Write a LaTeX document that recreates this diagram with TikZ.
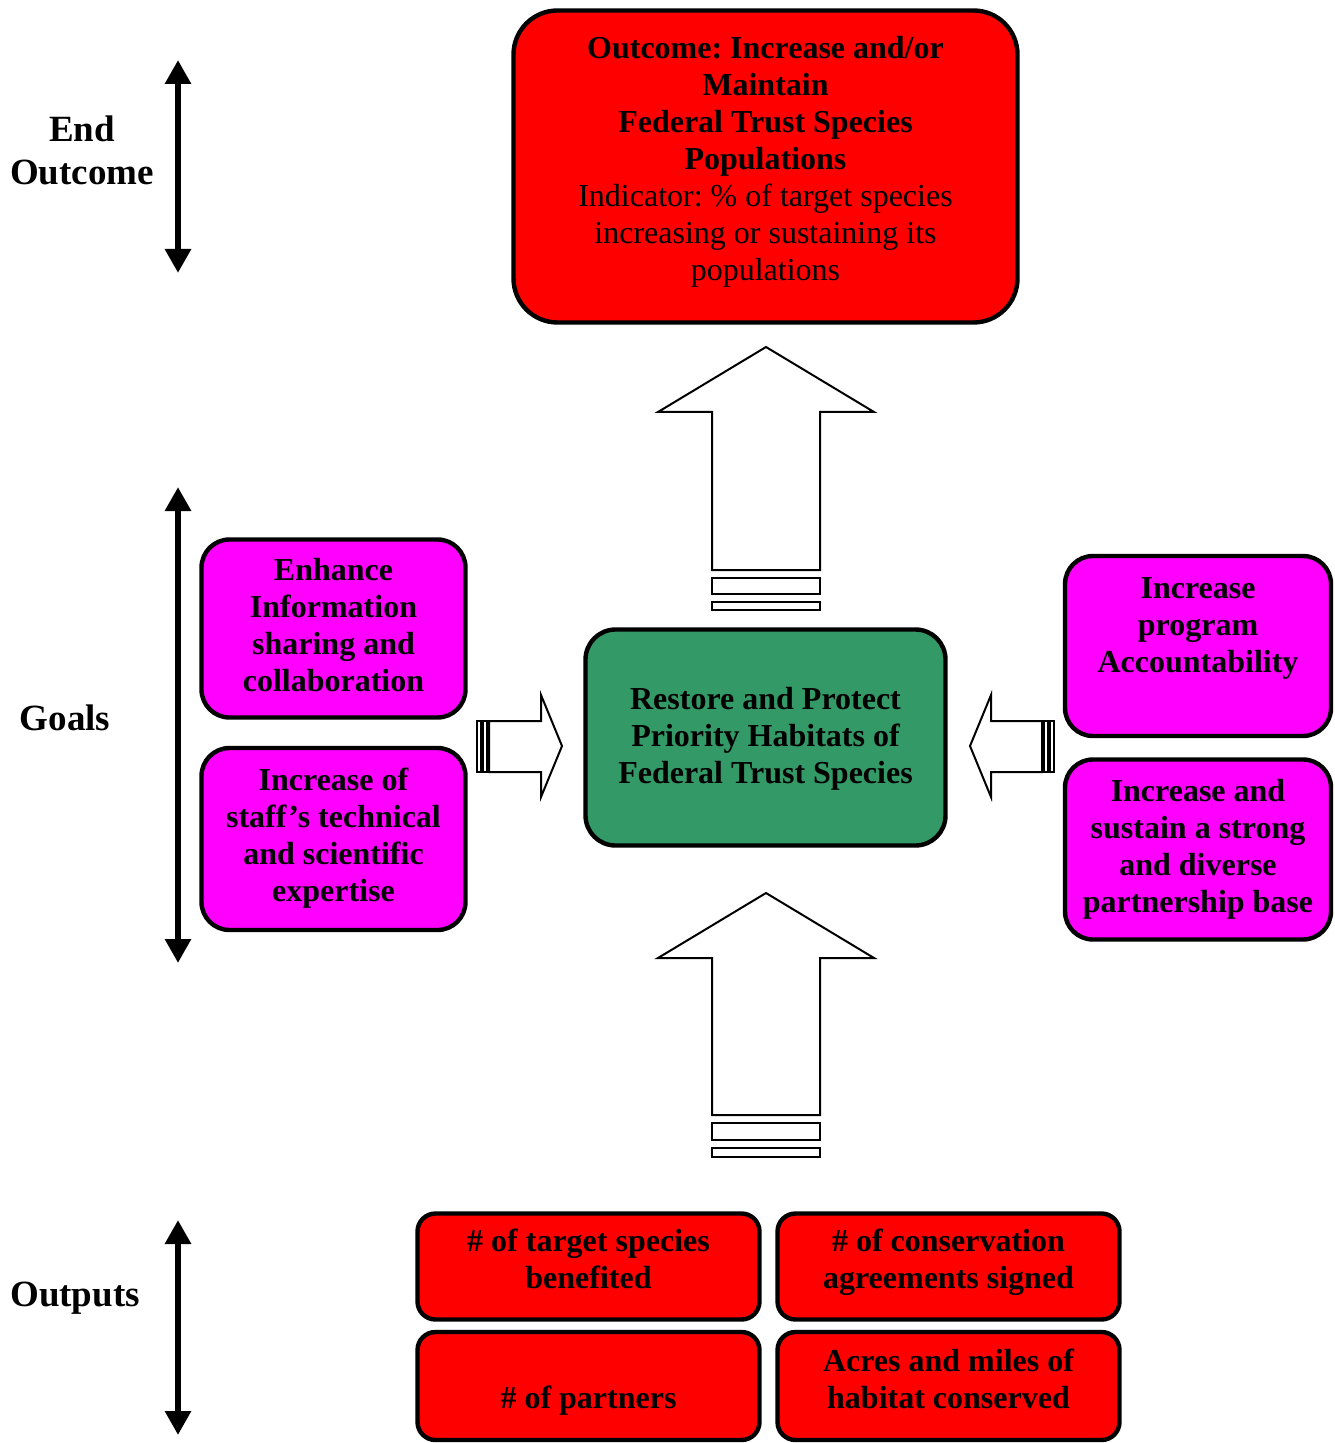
\documentclass[tikz,border=0pt]{standalone}
\usepackage{fontspec}
\setmainfont{Liberation Serif}
\usetikzlibrary{arrows.meta}

\definecolor{habgreen}{RGB}{51,153,102}
\definecolor{goalpink}{RGB}{255,0,255}
\definecolor{outred}{RGB}{255,0,0}

\tikzset{
  textbase/.style 2 args={execute at begin node={\rule{0pt}{#1}},
    execute at end node={\rule[-#2]{0pt}{#2}}},
  rbox/.style={draw,line width=2.2pt,rounded corners=#1,align=center,inner sep=0pt,
    font=\bfseries\fontsize{16}{18.5}\selectfont},
  lbl/.style={align=center,font=\bfseries\fontsize{18.5}{21.5}\selectfont},
  scalearrow/.style={line width=3pt,{Triangle[length=12pt,width=12.5pt]}-{Triangle[length=12pt,width=12.5pt]}},
  blockarrow/.style={draw,line width=1pt,fill=white,line join=miter}
}

\begin{document}
\frenchspacing
\begin{tikzpicture}[x=0.5pt,y=-0.5pt]
\useasboundingbox (0,0) rectangle (1334,1443);

% row labels and their ranges
\node[lbl] (eo) at (82,150) {End\\Outcome};
\node[lbl] (goals) at (65,718) {Goals};
\node[lbl] (outp) at (75,1298) {Outputs};

\draw[scalearrow] (178,60) -- (178,273);
\draw[scalearrow] (178,487) -- (178,963);
\draw[scalearrow] (178,1220) -- (178,1435);

% end outcome
\node[rbox=22pt,fill=outred,minimum width=252pt,minimum height=156pt,textbase={127pt}{12.5pt}] (outc) at (765.5,166.5)
  {Outcome: Increase and/or\\Maintain\\Federal Trust Species\\Populations\\
   \mdseries Indicator: \% of target species\\\mdseries increasing or sustaining its\\\mdseries populations};

% centre
\node[rbox=15pt,fill=habgreen,minimum width=180pt,minimum height=108pt,textbase={52pt}{6.5pt}] (hab) at (765.5,737.5)
  {Restore and Protect\\Priority Habitats of\\Federal Trust Species};

% goals
\node[rbox=14pt,fill=goalpink,minimum width=132pt,minimum height=89pt,textbase={70pt}{7.5pt}] (g1) at (333.5,628.5)
  {Enhance\\Information\\sharing and\\collaboration};
\node[rbox=14pt,fill=goalpink,minimum width=132pt,minimum height=91pt,textbase={70pt}{8pt}] (g2) at (333.5,839)
  {Increase of\\staff’s technical\\and scientific\\expertise};
\node[rbox=14pt,fill=goalpink,minimum width=133pt,minimum height=90pt,textbase={52pt}{26pt}] (g3) at (1198,646)
  {Increase\\program\\Accountability};
\node[rbox=14pt,fill=goalpink,minimum width=133pt,minimum height=90pt,textbase={70pt}{7.5pt}] (g4) at (1198,849.5)
  {Increase and\\sustain a strong\\and diverse\\partnership base};

% outputs
\node[rbox=9pt,fill=outred,minimum width=171pt,minimum height=53pt,textbase={32pt}{10.5pt}] (o1) at (588.5,1266.5)
  {\# of target species\\benefited};
\node[rbox=9pt,fill=outred,minimum width=171pt,minimum height=53pt,textbase={32pt}{10.5pt}] (o2) at (948.5,1266.5)
  {\# of conservation\\agreements signed};
\node[rbox=9pt,fill=outred,minimum width=171pt,minimum height=54pt,textbase={32pt}{10pt}] (o3) at (588.5,1386)
  {\# of partners};
\node[rbox=9pt,fill=outred,minimum width=171pt,minimum height=54pt,textbase={32pt}{10pt}] (o4) at (948.5,1386)
  {Acres and miles of\\habitat conserved};

% striped block arrows
\draw[blockarrow] (766,347) -- (874,412) -- (820,412) -- (820,570) -- (712,570) -- (712,412) -- (658,412) -- cycle;
\draw[blockarrow] (712,578) rectangle (820,594);
\draw[blockarrow] (712,602) rectangle (820,610);

\draw[blockarrow] (766,893) -- (874,958) -- (820,958) -- (820,1115) -- (712,1115) -- (712,958) -- (658,958) -- cycle;
\draw[blockarrow] (712,1123) rectangle (820,1140);
\draw[blockarrow] (712,1148) rectangle (820,1157);

\draw[blockarrow] (562,746) -- (541,797) -- (541,772) -- (489,772) -- (489,721) -- (541,721) -- (541,695) -- cycle;
\draw[blockarrow] (477,721) rectangle (481,772);
\draw[blockarrow] (483,721) rectangle (487,772);

\draw[blockarrow] (970,746) -- (991,797) -- (991,772) -- (1042,772) -- (1042,721) -- (991,721) -- (991,695) -- cycle;
\draw[blockarrow] (1044,721) rectangle (1048,772);
\draw[blockarrow] (1050,721) rectangle (1054,772);

\end{tikzpicture}
\end{document}
